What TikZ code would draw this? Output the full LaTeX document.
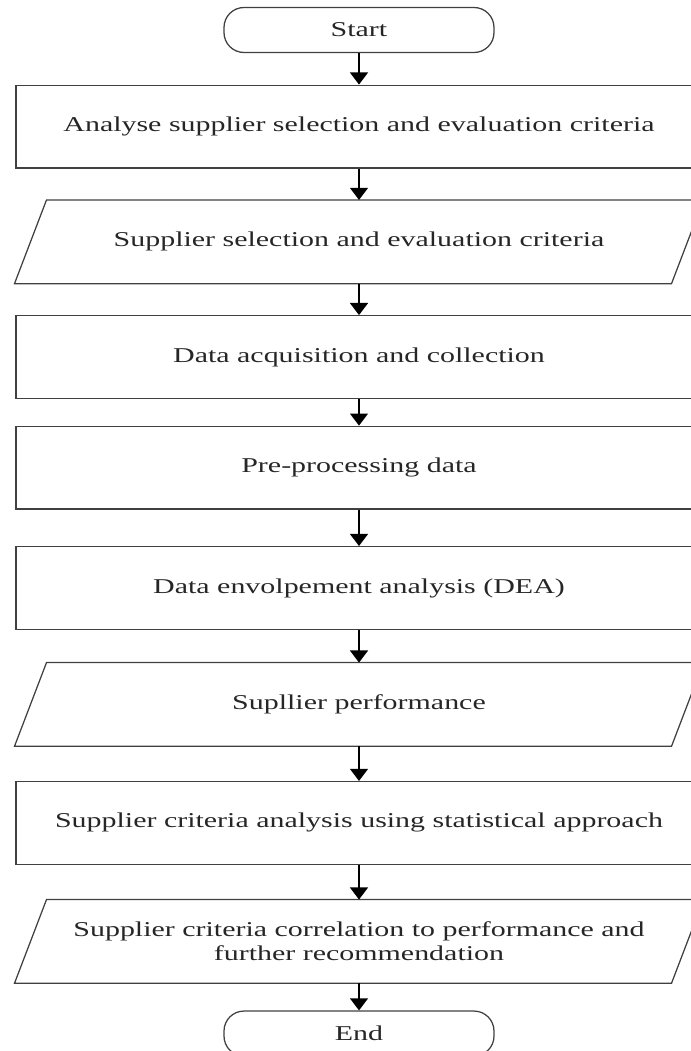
\documentclass[tikz,border=0pt]{standalone}
\usepackage{fontspec}
\setmainfont{Liberation Serif}[FakeStretch=1.42]
\usetikzlibrary{arrows.meta,positioning}

\begin{document}
\begin{tikzpicture}[
    node distance=0.45cm,
    every node/.style={font=\fontsize{8.4}{9.6}\selectfont, text=black!85},
    terminal/.style={draw=black!75, line width=0.5pt, rounded corners=0.28cm, minimum width=3.78cm, minimum height=0.63cm},
    process/.style={draw=black!75, line width=0.5pt, align=center, minimum width=9.604cm, minimum height=1.158cm},
    data/.style={align=center, minimum width=9.632cm, minimum height=1.158cm},
    outline/.style={draw=black!75, line width=0.5pt},
    flow/.style={-{Triangle[width=0.25cm, length=0.17cm]}, line width=0.8pt}
]
\useasboundingbox (0,0) rectangle (9.674,-14.714);
\node[terminal] (start) at (5.026,-0.42) {Start};
\node[process, below=0.44cm of start] (analyse) {Analyse supplier selection and evaluation criteria};
\node[data, below=0.44cm of analyse] (criteria) {Supplier selection and evaluation criteria};
\node[process, below=0.44cm of criteria] (acquire) {Data acquisition and collection};
\node[process, below=0.372cm of acquire] (preproc) {Pre-processing data};
\node[process, below=0.51cm of preproc] (dea) {Data envolpement analysis (DEA)};
\node[data, below=0.456cm of dea] (perf) {Supllier performance};
\node[process, below=0.485cm of perf] (stats) {Supplier criteria analysis using statistical approach};
\node[data, below=0.485cm of stats] (correl) {Supplier criteria correlation to performance and\\further recommendation};
\node[terminal, below=0.38cm of correl] (end) {End};
% slanted outline of the data nodes
\foreach \n in {criteria,perf,correl}
    \draw[outline] (\n.south west) -- ([xshift=0.448cm]\n.north west) -- (\n.north east) -- ([xshift=-0.448cm]\n.south east) -- cycle;
\draw[flow] (start) -- (analyse);
\draw[flow] (analyse) -- (criteria);
\draw[flow] (criteria) -- (acquire);
\draw[flow] (acquire) -- (preproc);
\draw[flow] (preproc) -- (dea);
\draw[flow] (dea) -- (perf);
\draw[flow] (perf) -- (stats);
\draw[flow] (stats) -- (correl);
\draw[flow] (correl) -- (end);
\end{tikzpicture}
\end{document}
